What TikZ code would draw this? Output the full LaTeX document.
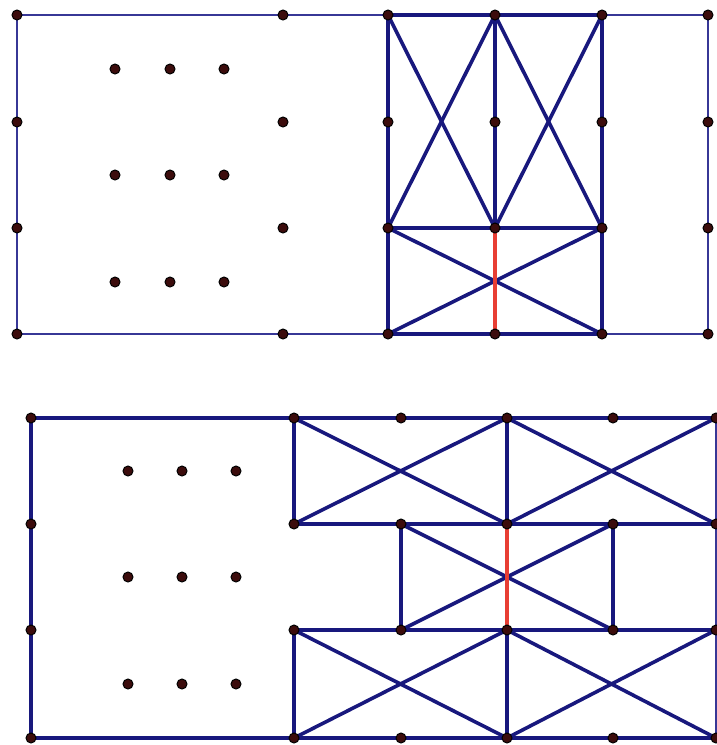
\documentclass[tikz,border=0pt]{standalone}
\definecolor{navy}{RGB}{24,24,125}
\definecolor{thinblue}{RGB}{55,55,150}
\definecolor{redline}{RGB}{232,62,52}
\definecolor{dotfill}{RGB}{60,12,12}
\tikzset{
  thick line/.style={draw=navy, line width=3.6pt, line cap=round},
  thin line/.style={draw=thinblue, line width=2.2pt},
  red line/.style={draw=redline, line width=3.2pt},
  dot/.style={circle, fill=dotfill, draw=black, line width=1pt, inner sep=0pt, minimum size=10pt},
}
\begin{document}
\begin{tikzpicture}[x=1pt,y=-1pt]
\useasboundingbox (0,0) rectangle (717,745);
% grid coordinates
\foreach \x [count=\i] in {17,283,388,495,602,708}
  \foreach \y [count=\j] in {15,122,228,334}
    \coordinate (T\i\j) at (\x,\y);
\foreach \x [count=\i] in {31,294,401,507,613,716}
  \foreach \y [count=\j] in {418,524,630,738}
    \coordinate (B\i\j) at (\x,\y);
\foreach \x [count=\i] in {115,170,224}
  \foreach \y [count=\j] in {69,175,282}
    \coordinate (TI\i\j) at (\x,\y);
\foreach \x [count=\i] in {128,182,236}
  \foreach \y [count=\j] in {471,577,684}
    \coordinate (BI\i\j) at (\x,\y);
% ---- top figure ----
\draw[thin line] (T31) -- (T11) -- (T14) -- (T34);
\draw[thin line] (T51) -- (T61) -- (T64) -- (T54);
\draw[thick line] (T31) -- (T34);
\draw[thick line] (T41) -- (T43);
\draw[thick line] (T51) -- (T54);
\draw[thick line] (T31) -- (T51);
\draw[thick line] (T33) -- (T53);
\draw[thick line] (T34) -- (T54);
\draw[thick line] (T31) -- (T43);
\draw[thick line] (T41) -- (T33);
\draw[thick line] (T41) -- (T53);
\draw[thick line] (T51) -- (T43);
\draw[thick line] (T33) -- (T54);
\draw[thick line] (T53) -- (T34);
\draw[red line] (T43) -- (T44);
% ---- bottom figure ----
\draw[thin line] (B61) -- (B64);
\draw[thick line] (B21) -- (B11) -- (B14) -- (B24);
\draw[thick line] (B21) -- (B22);
\draw[thick line] (B23) -- (B24);
\draw[thick line] (B21) -- (B61);
\draw[thick line] (B22) -- (B62);
\draw[thick line] (B23) -- (B63);
\draw[thick line] (B24) -- (B64);
\draw[thick line] (B41) -- (B42);
\draw[thick line] (B43) -- (B44);
\draw[thick line] (B32) -- (B33);
\draw[thick line] (B52) -- (B53);
\draw[thick line] (B21) -- (B42);
\draw[thick line] (B22) -- (B41);
\draw[thick line] (B41) -- (B62);
\draw[thick line] (B42) -- (B61);
\draw[thick line] (B32) -- (B53);
\draw[thick line] (B33) -- (B52);
\draw[thick line] (B23) -- (B44);
\draw[thick line] (B24) -- (B43);
\draw[thick line] (B43) -- (B64);
\draw[thick line] (B44) -- (B63);
\draw[red line] (B42) -- (B43);
% ---- dots ----
\foreach \i in {1,...,6}
  \foreach \j in {1,...,4} {
    \node[dot] (dT\i\j) at (T\i\j) {};
    \node[dot] (dB\i\j) at (B\i\j) {};
  }
\foreach \i in {1,2,3}
  \foreach \j in {1,2,3} {
    \node[dot] (dTI\i\j) at (TI\i\j) {};
    \node[dot] (dBI\i\j) at (BI\i\j) {};
  }
\end{tikzpicture}
\end{document}
